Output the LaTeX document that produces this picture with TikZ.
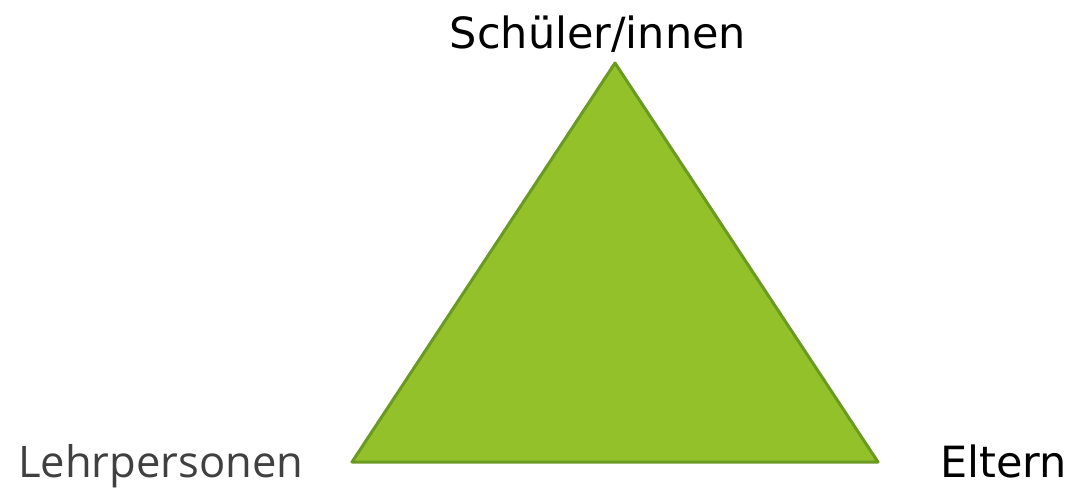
\documentclass[tikz,border=0pt]{standalone}
\usepackage{fontspec}
\setmainfont{DejaVu Sans}
\newfontfamily\opensans{Open Sans}
\usepackage{tikz}
\definecolor{trifill}{HTML}{92C12A}
\definecolor{triline}{HTML}{6A9A22}
\definecolor{darkgraytext}{HTML}{404040}
\tikzset{label text/.style={inner sep=0pt, font=\fontsize{43}{50}\selectfont}}

\begin{document}
\begin{tikzpicture}[x=1pt,y=-1pt]
\useasboundingbox (0,0) rectangle (1076,489);
\draw[triline, line width=3pt, fill=trifill, line join=round] (615,63) coordinate (top) -- (878,462) coordinate (right) -- (352,462) coordinate (left) -- cycle;
\node[label text, anchor=base] (schueler) at (598,49) {Schüler/innen};
\node[label text, anchor=base west, text=darkgraytext, font=\opensans\fontsize{43.5}{50}\selectfont] (lehrer) at (18,477) {Lehrpersonen};
\node[label text, anchor=base east] (eltern) at (1067,477) {Eltern};
\end{tikzpicture}
\end{document}
